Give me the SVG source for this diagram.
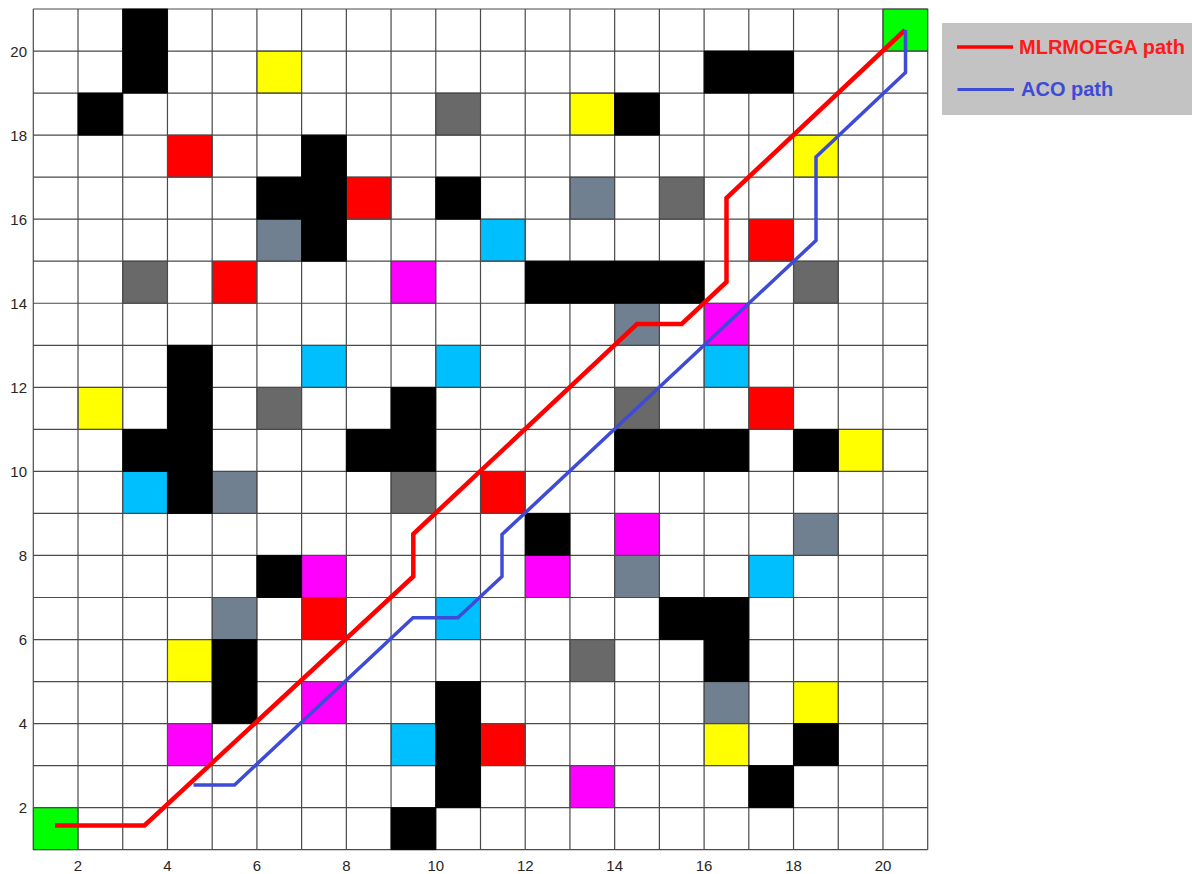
<svg xmlns="http://www.w3.org/2000/svg" width="1192" height="874" viewBox="0 0 1192 874">
<style>
.c{stroke:#3a3a3a;stroke-width:0.8}
.k{fill:#000;stroke:#000;stroke-width:0.8}
.y{fill:#FFFF00}
.r{fill:#FF0000}
.m{fill:#FF00FF}
.cy{fill:#00BFFF}
.s{fill:#708090}
.d{fill:#696969}
.g{fill:#00FF00}
.grid{fill:none;stroke:#4a4a4a;stroke-width:1.2}
.tick{font-family:"Liberation Sans",Arial,sans-serif;font-size:15px;fill:#262626}
.leg{font-family:"Liberation Sans",Arial,sans-serif;font-size:20px;font-weight:bold}
</style>
<rect x="0" y="0" width="1192" height="874" fill="#fff"/>
<g id="cells-colored">
<g id="start-goal">
<rect class="c g" x="33.30" y="807.67" width="44.72" height="42.04"/>
<rect class="c g" x="882.98" y="9.00" width="44.72" height="42.04"/>
</g>
<g id="yellow">
<rect class="c y" x="256.90" y="51.04" width="44.72" height="42.04"/>
<rect class="c y" x="569.94" y="93.07" width="44.72" height="42.04"/>
<rect class="c y" x="793.54" y="135.11" width="44.72" height="42.04"/>
<rect class="c y" x="78.02" y="387.32" width="44.72" height="42.04"/>
<rect class="c y" x="838.26" y="429.35" width="44.72" height="42.04"/>
<rect class="c y" x="167.46" y="639.53" width="44.72" height="42.04"/>
<rect class="c y" x="793.54" y="681.56" width="44.72" height="42.04"/>
<rect class="c y" x="704.10" y="723.60" width="44.72" height="42.04"/>
</g>
<g id="red">
<rect class="c r" x="167.46" y="135.11" width="44.72" height="42.04"/>
<rect class="c r" x="346.34" y="177.14" width="44.72" height="42.04"/>
<rect class="c r" x="748.82" y="219.18" width="44.72" height="42.04"/>
<rect class="c r" x="212.18" y="261.21" width="44.72" height="42.04"/>
<rect class="c r" x="748.82" y="387.32" width="44.72" height="42.04"/>
<rect class="c r" x="480.50" y="471.39" width="44.72" height="42.04"/>
<rect class="c r" x="301.62" y="597.49" width="44.72" height="42.04"/>
<rect class="c r" x="480.50" y="723.60" width="44.72" height="42.04"/>
</g>
<g id="magenta">
<rect class="c m" x="391.06" y="261.21" width="44.72" height="42.04"/>
<rect class="c m" x="704.10" y="303.25" width="44.72" height="42.04"/>
<rect class="c m" x="614.66" y="513.42" width="44.72" height="42.04"/>
<rect class="c m" x="301.62" y="555.46" width="44.72" height="42.04"/>
<rect class="c m" x="525.22" y="555.46" width="44.72" height="42.04"/>
<rect class="c m" x="301.62" y="681.56" width="44.72" height="42.04"/>
<rect class="c m" x="167.46" y="723.60" width="44.72" height="42.04"/>
<rect class="c m" x="569.94" y="765.63" width="44.72" height="42.04"/>
</g>
<g id="cyan">
<rect class="c cy" x="480.50" y="219.18" width="44.72" height="42.04"/>
<rect class="c cy" x="301.62" y="345.28" width="44.72" height="42.04"/>
<rect class="c cy" x="435.78" y="345.28" width="44.72" height="42.04"/>
<rect class="c cy" x="704.10" y="345.28" width="44.72" height="42.04"/>
<rect class="c cy" x="122.74" y="471.39" width="44.72" height="42.04"/>
<rect class="c cy" x="748.82" y="555.46" width="44.72" height="42.04"/>
<rect class="c cy" x="435.78" y="597.49" width="44.72" height="42.04"/>
<rect class="c cy" x="391.06" y="723.60" width="44.72" height="42.04"/>
</g>
<g id="slate">
<rect class="c s" x="569.94" y="177.14" width="44.72" height="42.04"/>
<rect class="c s" x="256.90" y="219.18" width="44.72" height="42.04"/>
<rect class="c s" x="614.66" y="303.25" width="44.72" height="42.04"/>
<rect class="c s" x="212.18" y="471.39" width="44.72" height="42.04"/>
<rect class="c s" x="793.54" y="513.42" width="44.72" height="42.04"/>
<rect class="c s" x="614.66" y="555.46" width="44.72" height="42.04"/>
<rect class="c s" x="212.18" y="597.49" width="44.72" height="42.04"/>
<rect class="c s" x="704.10" y="681.56" width="44.72" height="42.04"/>
</g>
<g id="dimgray">
<rect class="c d" x="435.78" y="93.07" width="44.72" height="42.04"/>
<rect class="c d" x="659.38" y="177.14" width="44.72" height="42.04"/>
<rect class="c d" x="122.74" y="261.21" width="44.72" height="42.04"/>
<rect class="c d" x="793.54" y="261.21" width="44.72" height="42.04"/>
<rect class="c d" x="256.90" y="387.32" width="44.72" height="42.04"/>
<rect class="c d" x="614.66" y="387.32" width="44.72" height="42.04"/>
<rect class="c d" x="391.06" y="471.39" width="44.72" height="42.04"/>
<rect class="c d" x="569.94" y="639.53" width="44.72" height="42.04"/>
</g>
</g>
<path class="grid" d="M33.30 9V849.7M78.02 9V849.7M122.74 9V849.7M167.46 9V849.7M212.18 9V849.7M256.90 9V849.7M301.62 9V849.7M346.34 9V849.7M391.06 9V849.7M435.78 9V849.7M480.50 9V849.7M525.22 9V849.7M569.94 9V849.7M614.66 9V849.7M659.38 9V849.7M704.10 9V849.7M748.82 9V849.7M793.54 9V849.7M838.26 9V849.7M882.98 9V849.7M927.70 9V849.7M33.3 9.00H927.7M33.3 51.04H927.7M33.3 93.07H927.7M33.3 135.11H927.7M33.3 177.14H927.7M33.3 219.18H927.7M33.3 261.21H927.7M33.3 303.25H927.7M33.3 345.28H927.7M33.3 387.32H927.7M33.3 429.35H927.7M33.3 471.39H927.7M33.3 513.42H927.7M33.3 555.46H927.7M33.3 597.49H927.7M33.3 639.53H927.7M33.3 681.56H927.7M33.3 723.60H927.7M33.3 765.63H927.7M33.3 807.67H927.7M33.3 849.70H927.7"/>
<g id="obstacles">
<rect class="k" x="122.74" y="9.00" width="44.72" height="84.07"/>
<rect class="k" x="704.10" y="51.04" width="89.44" height="42.03"/>
<rect class="k" x="78.02" y="93.07" width="44.72" height="42.04"/>
<rect class="k" x="614.66" y="93.07" width="44.72" height="42.04"/>
<rect class="k" x="301.62" y="135.11" width="44.72" height="126.10"/>
<rect class="k" x="256.90" y="177.14" width="44.72" height="42.04"/>
<rect class="k" x="435.78" y="177.14" width="44.72" height="42.04"/>
<rect class="k" x="525.22" y="261.21" width="178.88" height="42.04"/>
<rect class="k" x="167.46" y="345.28" width="44.72" height="168.14"/>
<rect class="k" x="122.74" y="429.35" width="44.72" height="42.04"/>
<rect class="k" x="391.06" y="387.32" width="44.72" height="84.07"/>
<rect class="k" x="346.34" y="429.35" width="44.72" height="42.04"/>
<rect class="k" x="614.66" y="429.35" width="134.16" height="42.04"/>
<rect class="k" x="793.54" y="429.35" width="44.72" height="42.04"/>
<rect class="k" x="525.22" y="513.42" width="44.72" height="42.04"/>
<rect class="k" x="256.90" y="555.46" width="44.72" height="42.04"/>
<rect class="k" x="659.38" y="597.49" width="89.44" height="42.04"/>
<rect class="k" x="704.10" y="639.53" width="44.72" height="42.04"/>
<rect class="k" x="212.18" y="639.53" width="44.72" height="84.07"/>
<rect class="k" x="435.78" y="681.56" width="44.72" height="126.11"/>
<rect class="k" x="793.54" y="723.60" width="44.72" height="42.04"/>
<rect class="k" x="748.82" y="765.63" width="44.72" height="42.04"/>
<rect class="k" x="391.06" y="807.67" width="44.72" height="42.03"/>
</g>
<g id="connectors" fill="none" stroke-linejoin="miter">
<polyline id="mlrmoega-path" stroke="#FF0000" stroke-width="4.5" points="55,825.5 144.5,825.5 413.3,576.5 413.3,534 637,324 681.7,324 726.5,282 726.5,198 905,30"/>
<polyline id="aco-path" stroke="#3D4BD6" stroke-width="3.5" points="193.5,785 234.5,785 413,617.8 457.8,617.8 502,576.5 502,534.5 816,240.5 816,157 905.5,72.5 905.5,30"/>
</g>
<g id="axis-labels" class="tick">
<g text-anchor="end">
<text x="27" y="813">2</text>
<text x="27" y="729">4</text>
<text x="27" y="645">6</text>
<text x="27" y="561">8</text>
<text x="27" y="477">10</text>
<text x="27" y="393">12</text>
<text x="27" y="309">14</text>
<text x="27" y="225">16</text>
<text x="27" y="141">18</text>
<text x="27" y="56.5">20</text>
</g>
<g text-anchor="middle">
<text x="78.02" y="870.5">2</text>
<text x="167.46" y="870.5">4</text>
<text x="256.90" y="870.5">6</text>
<text x="346.34" y="870.5">8</text>
<text x="435.78" y="870.5">10</text>
<text x="525.22" y="870.5">12</text>
<text x="614.66" y="870.5">14</text>
<text x="704.10" y="870.5">16</text>
<text x="793.54" y="870.5">18</text>
<text x="882.98" y="870.5">20</text>
</g>
</g>
<g id="legend">
<rect x="942" y="23" width="250" height="92" fill="#C3C3C3"/>
<line x1="957" y1="47" x2="1013" y2="47" stroke="#FF0000" stroke-width="3.5"/>
<text class="leg" x="1019" y="53.5" fill="#FF1A1A">MLRMOEGA path</text>
<line x1="957.5" y1="89.5" x2="1014" y2="89.5" stroke="#3D4BD6" stroke-width="3.2"/>
<text class="leg" x="1021" y="95.5" fill="#3D4BD6">ACO path</text>
</g>
</svg>
